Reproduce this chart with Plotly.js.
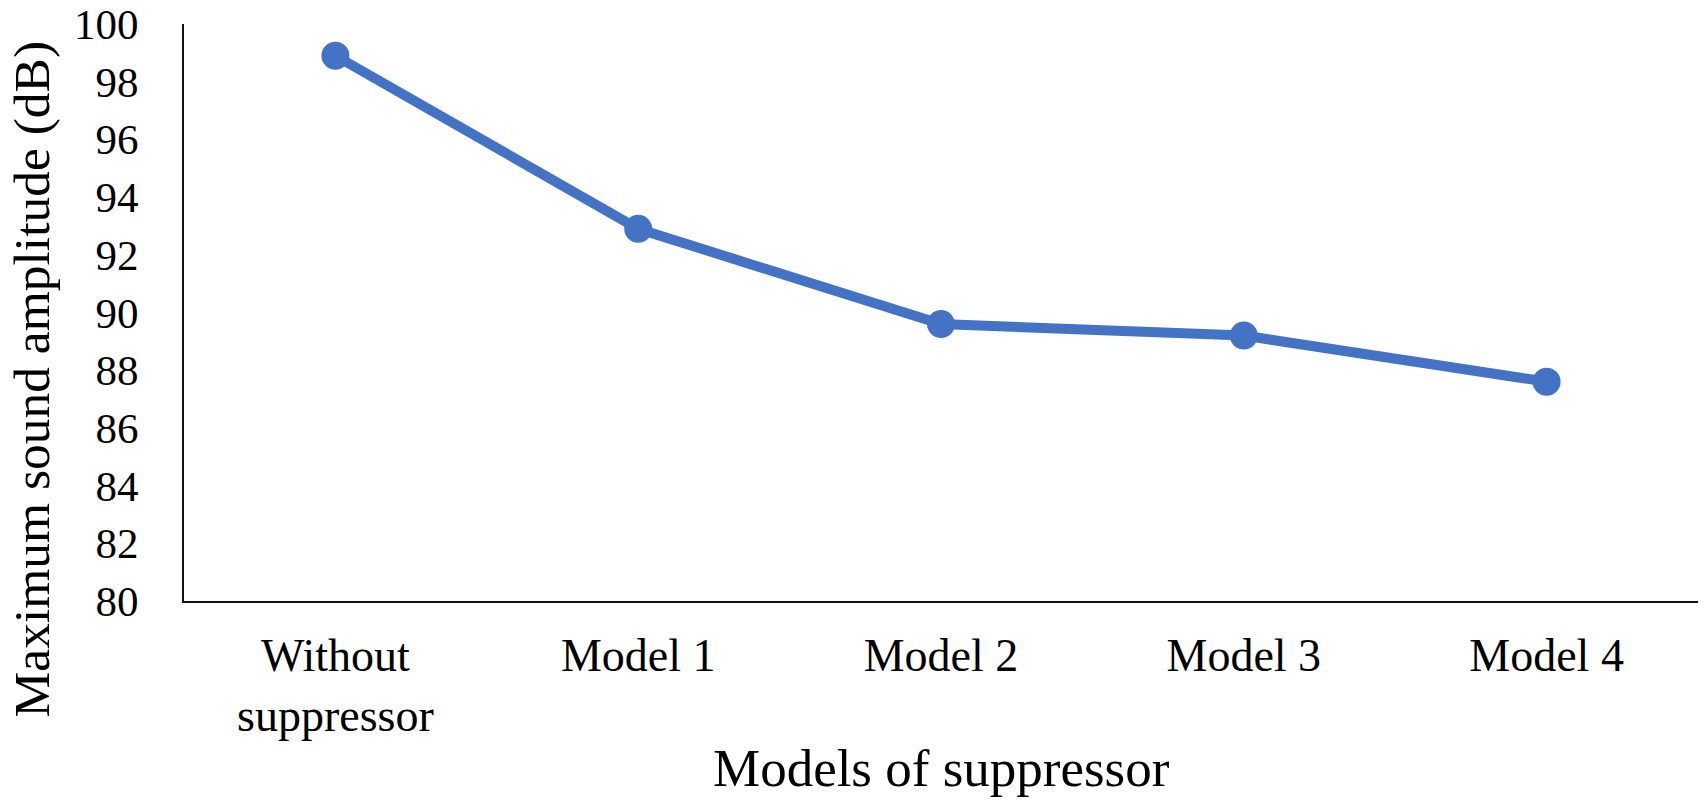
<!DOCTYPE html>
<html>
<head>
<meta charset="utf-8">
<script src="https://cdn.plot.ly/plotly-3.0.1.min.js"></script>
<style>
  html, body { margin: 0; padding: 0; background: #fff; }
  #chart { width: 1704px; height: 812px; }
</style>
</head>
<body>
<div id="chart"></div>
<script>
// values
const models = ['Without<br>suppressor', 'Model 1', 'Model 2', 'Model 3', 'Model 4'];
const maxAmplitude = [98.9, 92.9, 89.6, 89.2, 87.6];
const yTicks = [80, 82, 84, 86, 88, 90, 92, 94, 96, 98, 100];

const xTitle = 'Models of suppressor';
const yTitle = 'Maximum sound amplitude (dB)';

const blue = '#4472C4';
const serif = 'Liberation Serif, Times New Roman, serif';

const trace = {
    x: models,
    y: maxAmplitude,
    type: 'scatter',
    mode: 'lines+markers',
    line: { color: blue, width: 10 },
    marker: { color: blue, size: 28 },
    cliponaxis: false,
    hoverinfo: 'x+y',
};

const layout = {
    width: 1704,
    height: 812,
    showlegend: false,
    paper_bgcolor: '#fff',
    plot_bgcolor: '#fff',
    margin: { l: 184, r: 6, t: 24, b: 211 },
    font: { family: serif, color: '#000' },
    xaxis: {
        type: 'category',
        range: [-0.5, 4.5],
        showgrid: false,
        zeroline: false,
        showline: true,
        linecolor: '#111',
        linewidth: 2,
        ticks: '',
        ticklabelstandoff: 13,
        tickfont: { family: serif, size: 46, color: '#000' },
        fixedrange: true,
    },
    yaxis: {
        range: [80, 100],
        tickvals: yTicks,
        showgrid: false,
        zeroline: false,
        showline: true,
        linecolor: '#111',
        linewidth: 2,
        ticks: '',
        ticklabelstandoff: 35,
        ticklabeloverflow: 'allow',
        tickfont: { family: serif, size: 43, color: '#000' },
        fixedrange: true,
    },
    // axis titles as annotations so they sit where the reference has them
    annotations: [
        {
            text: xTitle,
            xref: 'paper', yref: 'paper',
            x: 0.5, y: -0.289,
            xanchor: 'center', yanchor: 'middle',
            showarrow: false,
            font: { family: serif, size: 53, color: '#000' },
        },
        {
            text: yTitle,
            textangle: -90,
            xref: 'paper', yref: 'paper',
            x: -0.101, y: 0.384,
            xanchor: 'center', yanchor: 'middle',
            showarrow: false,
            font: { family: serif, size: 51.5, color: '#000' },
        },
    ],
};

Plotly.newPlot('chart', [trace], layout, { staticPlot: true, displayModeBar: false });
</script>
</body>
</html>
